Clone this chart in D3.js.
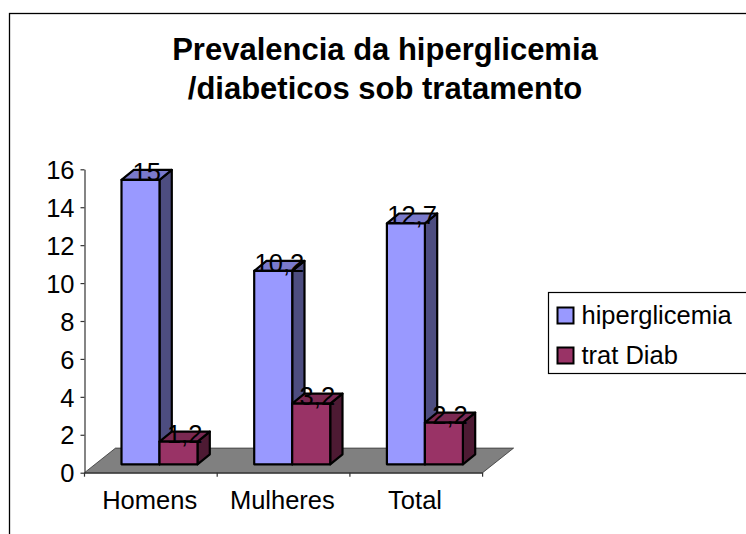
<!DOCTYPE html>
<html><head><meta charset="utf-8">
<script src="https://cdn.jsdelivr.net/npm/d3@7/dist/d3.min.js"></script>
<style>html,body{margin:0;padding:0;background:#fff;overflow:hidden}svg{display:block}text{font-family:"Liberation Sans",Arial,sans-serif;fill:#000}</style>
</head><body><svg id="c" width="746" height="534"></svg>
<script>
const categories = ["Homens","Mulheres","Total"];
const seriesNames = ["hiperglicemia","trat Diab"];
const hiperglicemia = [15,10.2,12.7];
const tratDiab = [1.2,3.2,2.2];
const valueLabels = [["15","10,2","12,7"],["1,2","3,2","2,2"]];
const titleLines = ["Prevalencia da hiperglicemia","/diabeticos sob tratamento"];
const yTicks = [0,2,4,6,8,10,12,14,16];
const seriesValues = [hiperglicemia,tratDiab];
const faceColors = [{front:"#9999ff",side:"#4d4d80",top:"#7a7acc"},{front:"#993366",side:"#4d1a33",top:"#7a2952"}];

const svg = d3.select("#c");
const fs = 25.5;
const y = d3.scaleLinear().domain([0,16]).range([472.7,169.3]);
const x0 = d3.scaleBand().domain(categories).range([84.5,482.6]);
const x1 = d3.scaleBand().domain(d3.range(2)).range([26,102]);
const dxFront=11, dyFront=8.4, dxDepth=12.3, dyDepth=10, dxFloor=31, dyFloor=24.6;

// frame
svg.append("rect").attr("x",9.5).attr("y",13.5).attr("width",760).attr("height",560).attr("fill","#fff").attr("stroke","#000").attr("stroke-width",1.3);

// floor
const f0=y(0), xa=x0.range()[0], xb=x0.range()[1];
svg.append("polygon").attr("points",[[xa,f0],[xa+dxFloor,f0-dyFloor],[xb+dxFloor,f0-dyFloor],[xb,f0]].join(" "))
  .attr("fill","#808080").attr("stroke","#333").attr("stroke-width",0.8);

// axes
const yAxis = svg.append("g").attr("transform",`translate(${xa},0)`)
  .call(d3.axisLeft(y).tickValues(yTicks).tickSize(4).tickSizeOuter(0).tickPadding(6));
const xAxis = svg.append("g").attr("transform",`translate(-1.2,${f0})`)
  .call(d3.axisBottom(x0).tickSize(0).tickPadding(18));
[yAxis,xAxis].forEach(a=>{a.selectAll("path,line").attr("stroke","#333").attr("stroke-width",1.2);
  a.selectAll("text").attr("font-size",fs).attr("font-family",'"Liberation Sans"').attr("fill","#000");});
yAxis.selectAll("text").attr("dy","0.36em");
xAxis.select("path").attr("transform","translate(1.2,0)");
xAxis.selectAll(".edge").data(categories.map(c=>x0(c)).concat(xb)).enter().append("line").attr("class","edge")
  .attr("x1",d=>d+1.2).attr("x2",d=>d+1.2).attr("y1",0).attr("y2",4).attr("stroke","#333").attr("stroke-width",1.2);

// bars
const barG = svg.append("g").attr("stroke","#000").attr("stroke-width",2.2).attr("stroke-linejoin","round");
const labels=[];
categories.forEach((c,ci)=>{
  seriesValues.forEach((vals,si)=>{
    const L=x0(c)+x1(si)+dxFront, R=L+x1.bandwidth();
    const T=y(vals[ci])-dyFront, B=y(0)-dyFront;
    const g=barG.append("g");
    const col=faceColors[si];
    g.append("polygon").attr("points",[[R,T],[R+dxDepth,T-dyDepth],[R+dxDepth,B-dyDepth],[R,B]].join(" ")).attr("fill",col.side);
    g.append("polygon").attr("points",[[L,T],[L+dxDepth,T-dyDepth],[R+dxDepth,T-dyDepth],[R,T]].join(" ")).attr("fill",col.top);
    g.append("rect").attr("x",L).attr("y",T).attr("width",R-L).attr("height",B-T).attr("fill",col.front);
    labels.push({x:(L+R)/2+dxDepth/2,y:T+1,t:valueLabels[si][ci]});
  });
});
svg.append("g").selectAll("text").data(labels).enter().append("text")
  .attr("x",d=>d.x).attr("y",d=>d.y).attr("text-anchor","middle").attr("font-size",fs).text(d=>d.t);

// title
svg.append("g").selectAll("text").data(titleLines).enter().append("text")
  .attr("x",385).attr("y",(d,i)=>60+i*39).attr("text-anchor","middle").attr("font-size",31).attr("font-weight","bold").text(d=>d);

// legend
svg.append("rect").attr("x",548.5).attr("y",292.5).attr("width",220).attr("height",81).attr("fill","#fff").attr("stroke","#000").attr("stroke-width",1.2);
const lg=svg.append("g").selectAll("g").data(seriesNames).enter().append("g");
lg.append("rect").attr("x",557.5).attr("y",(d,i)=>307.5+i*40).attr("width",16).attr("height",16)
  .attr("fill",(d,i)=>faceColors[i].front).attr("stroke","#000").attr("stroke-width",2);
lg.append("text").attr("x",581.5).attr("y",(d,i)=>324+i*40).attr("font-size",fs).text(d=>d);
</script></body></html>
